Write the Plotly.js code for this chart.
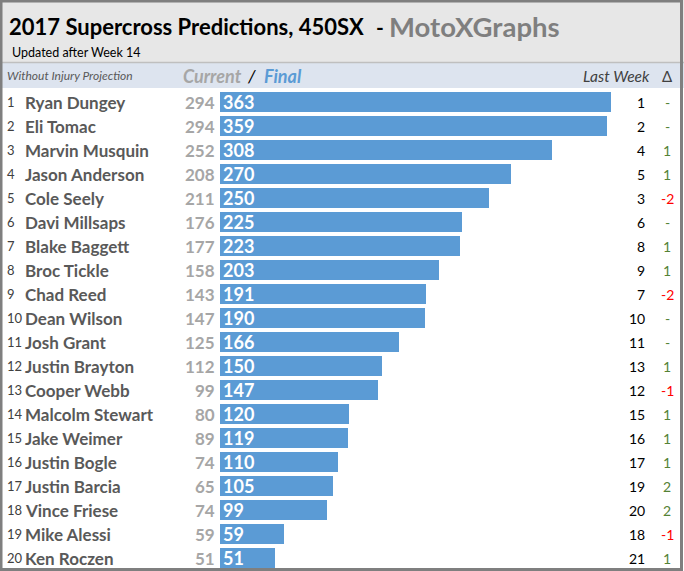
<!DOCTYPE html>
<html><head><meta charset="utf-8">
<script src="https://cdn.plot.ly/plotly-3.0.1.min.js"></script>
<style>html,body{margin:0;padding:0;background:#fff}#chart{width:684px;height:571px}</style>
</head><body><div id="chart"></div>
<script>
const riders = ["Ryan Dungey","Eli Tomac","Marvin Musquin","Jason Anderson","Cole Seely","Davi Millsaps","Blake Baggett","Broc Tickle","Chad Reed","Dean Wilson","Josh Grant","Justin Brayton","Cooper Webb","Malcolm Stewart","Jake Weimer","Justin Bogle","Justin Barcia","Vince Friese","Mike Alessi","Ken Roczen"];
const currentPts = [294,294,252,208,211,176,177,158,143,147,125,112,99,80,89,74,65,74,59,51];
const finalPts = [363,359,308,270,250,225,223,203,191,190,166,150,147,120,119,110,105,99,59,51];
const lastWeek = [1,2,4,5,3,6,8,9,7,10,11,13,12,15,16,17,19,20,18,21];
const delta = ["-","-","1","1","-2","-","1","1","-2","-","-","1","-1","1","1","1","2","2","-1","1"];

const W = 684, H = 571;
const px = p => p / W;
const py = p => 1 - p / H;
const FONT = "Lato, 'Open Sans', sans-serif";

const ann = [];
riders.forEach((name, i) => {
  ann.push({xref:'paper', yref:'y', x:px(5), y:name, xanchor:'left', yanchor:'middle', showarrow:false,
    text:String(i+1), font:{family:FONT, size:13, color:'#404040'}});
  ann.push({xref:'paper', yref:'y', x:px(23), y:name, xanchor:'left', yanchor:'middle', showarrow:false,
    text:'<b>'+name+'</b>', font:{family:FONT, size:17, color:'#595959'}});
  ann.push({xref:'paper', yref:'y', x:px(217), y:name, xanchor:'right', yanchor:'middle', showarrow:false,
    text:'<b>'+currentPts[i]+'</b>', font:{family:FONT, size:17, color:'#a6a6a6'}});
  ann.push({xref:'paper', yref:'y', x:px(647), y:name, xanchor:'right', yanchor:'middle', showarrow:false,
    text:String(lastWeek[i]), font:{family:FONT, size:14, color:'#000000'}});
  const neg = delta[i].startsWith('-') && delta[i] !== '-';
  ann.push({xref:'paper', yref:'y', x:px(667), y:name, xanchor:'center', yanchor:'middle', showarrow:false,
    text:delta[i], font:{family:FONT, size:14, color: neg ? '#ff0000' : '#548235'}});
});

// title and header texts
ann.push({xref:'paper', yref:'paper', x:px(7), y:py(27), xanchor:'left', yanchor:'middle', showarrow:false,
  text:'<b>2017 Supercross Predictions, 450SX</b>', font:{family:FONT, size:22, color:'#000000'}});
ann.push({xref:'paper', yref:'paper', x:px(374), y:py(27), xanchor:'left', yanchor:'middle', showarrow:false,
  text:'<b>-</b>', font:{family:FONT, size:21, color:'#000000'}});
ann.push({xref:'paper', yref:'paper', x:px(387), y:py(26), xanchor:'left', yanchor:'middle', showarrow:false,
  text:'<b>MotoXGraphs</b>', font:{family:FONT, size:27.5, color:'#7f7f7f'}});
ann.push({xref:'paper', yref:'paper', x:px(10), y:py(52), xanchor:'left', yanchor:'middle', showarrow:false,
  text:'Updated after Week 14', font:{family:FONT, size:12.5, color:'#000000'}});
ann.push({xref:'paper', yref:'paper', x:px(5), y:py(76), xanchor:'left', yanchor:'middle', showarrow:false,
  text:'<i>Without Injury Projection</i>', font:{family:FONT, size:12, color:'#595959'}});
ann.push({xref:'paper', yref:'paper', x:px(181), y:py(76), xanchor:'left', yanchor:'middle', showarrow:false,
  text:'<b><i>Current</i></b>', font:{family:FONT, size:18, color:'#a6a6a6'}});
ann.push({xref:'paper', yref:'paper', x:px(245), y:py(76), xanchor:'left', yanchor:'middle', showarrow:false,
  text:'<i>/</i>', font:{family:FONT, size:18, color:'#000000'}});
ann.push({xref:'paper', yref:'paper', x:px(262), y:py(76), xanchor:'left', yanchor:'middle', showarrow:false,
  text:'<b><i>Final</i></b>', font:{family:FONT, size:18, color:'#5b9bd5'}});
ann.push({xref:'paper', yref:'paper', x:px(652), y:py(76), xanchor:'right', yanchor:'middle', showarrow:false,
  text:'<i>Last Week</i>', font:{family:FONT, size:15.5, color:'#404040'}});
ann.push({xref:'paper', yref:'paper', x:px(667), y:py(76), xanchor:'center', yanchor:'middle', showarrow:false,
  text:'Δ', font:{family:FONT, size:15, color:'#404040'}});

const shapes = [
  {type:'rect', xref:'paper', yref:'paper', x0:0, x1:1, y0:py(62), y1:1, fillcolor:'#e7e7e7', line:{width:0}, layer:'below'},
  {type:'rect', xref:'paper', yref:'paper', x0:0, x1:1, y0:py(88), y1:py(63), fillcolor:'#dde4ef', line:{width:0}, layer:'below'},
  {type:'line', xref:'paper', yref:'paper', x0:0, x1:1, y0:py(62.5), y1:py(62.5), line:{color:'#bfbfbf', width:1.5}, layer:'below'},
  {type:'rect', xref:'paper', yref:'paper', x0:px(1), x1:px(681.5), y0:py(569.5), y1:py(1), fillcolor:'rgba(0,0,0,0)', line:{color:'#7f7f7f', width:3}, layer:'above'}
];

const scale = 391 / 363; // px per point
const trace = {
  type:'bar', orientation:'h', y:riders, x:finalPts, width:0.83,
  marker:{color:'#5b9bd5', line:{width:0}},
  text:finalPts.map(v => '<b>'+v+'</b>'), textposition:'inside', insidetextanchor:'start', textangle:0,
  constraintext:'none', textfont:{family:FONT, size:18, color:'#ffffff'},
  hoverinfo:'none', cliponaxis:false
};

const layout = {
  width:W, height:H, margin:{l:0, r:0, t:0, b:0}, paper_bgcolor:'#ffffff', plot_bgcolor:'rgba(0,0,0,0)',
  showlegend:false, bargap:0,
  xaxis:{range:[-220/scale, (W-220)/scale], visible:false, fixedrange:true},
  yaxis:{type:'category', range:[(H-102)/24, -102/24], visible:false, fixedrange:true},
  annotations:ann, shapes:shapes
};
Plotly.newPlot('chart', [trace], layout, {displayModeBar:false, staticPlot:true});
</script></body></html>
